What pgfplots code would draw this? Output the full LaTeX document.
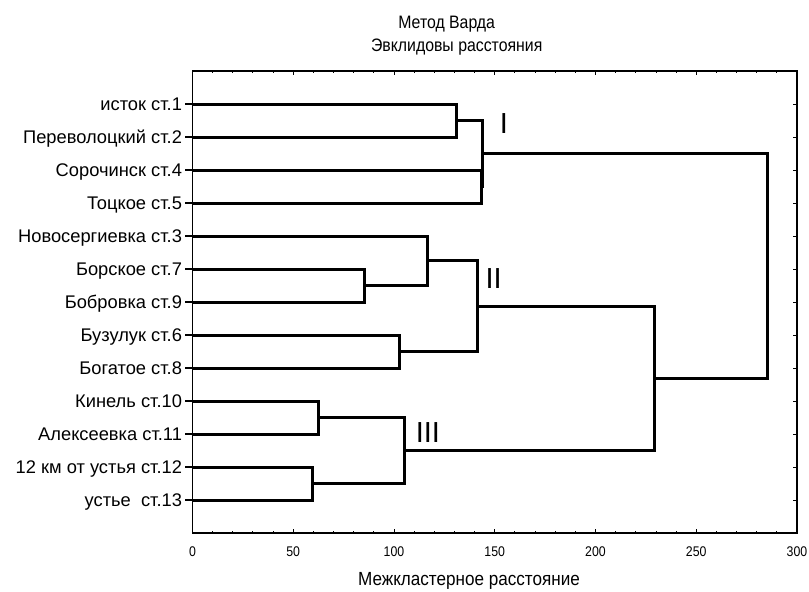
\documentclass[border=0pt]{standalone}
\usepackage{pgfplots}
\pgfplotsset{compat=1.18}
\usepackage{fontspec}
\setmainfont{Liberation Sans}
\newfontfamily\narrowfont{Liberation Sans}[FakeStretch=0.88]
\newfontfamily\titlefont{Liberation Sans}[FakeStretch=0.88]
\newfontfamily\labelfont{Liberation Sans}[FakeStretch=0.9]

\begin{document}
\begin{tikzpicture}[tree/.style={black, solid, line width=3pt, line join=miter, mark=none}]
% frame, x ticks, inner ticks on the right
\begin{axis}[
  at={(0,0)}, anchor=south west,
  scale only axis, width=604.5pt, height=462pt,
  xmin=0, xmax=300, ymin=0, ymax=14, y dir=reverse,
  xtick={0,50,...,300}, minor x tick num=4, xtick pos=both,
  ytick={1,...,13}, ytick pos=right, yticklabels={},
  tick align=inside, major tick length=4pt, minor tick length=2pt,
  axis line style={line width=1.3pt},
  every tick/.style={black, line width=0.9pt},
  /pgf/number format/assume math mode=true,
  xticklabel style={font=\narrowfont\fontsize{14}{16}\selectfont, anchor=base, yshift=-23pt},
]
\addplot[tree] coordinates {(0,1)(131,1)(131,2)(0,2)};
\addplot[tree] coordinates {(0,3)(143.2,3)(143.2,4)(0,4)};
\addplot[tree] coordinates {(131,1.5)(143.8,1.5)(143.8,3.5)(143.2,3.5)};
\addplot[tree] coordinates {(0,6)(85.6,6)(85.6,7)(0,7)};
\addplot[tree] coordinates {(0,5)(116.4,5)(116.4,6.5)(85.6,6.5)};
\addplot[tree] coordinates {(0,8)(102.6,8)(102.6,9)(0,9)};
\addplot[tree] coordinates {(116.4,5.75)(141.2,5.75)(141.2,8.5)(102.6,8.5)};
\addplot[tree] coordinates {(0,10)(62.4,10)(62.4,11)(0,11)};
\addplot[tree] coordinates {(0,12)(59.6,12)(59.6,13)(0,13)};
\addplot[tree] coordinates {(62.4,10.5)(105.3,10.5)(105.3,12.5)(59.6,12.5)};
\addplot[tree] coordinates {(141.2,7.125)(229.2,7.125)(229.2,11.5)(105.3,11.5)};
\addplot[tree] coordinates {(143.8,2.5)(285.5,2.5)(285.5,9.3125)(229.2,9.3125)};
\node[font=\fontsize{29}{32}\selectfont] at (axis cs:154.6,1.58) {I};
\node[font=\fontsize{29}{32}\selectfont] at (axis cs:149.5,6.3) {II};
\node[font=\fontsize{29}{32}\selectfont] at (axis cs:116.8,10.94) {III};
\end{axis}
% station labels with outer ticks on the left
\begin{axis}[
  at={(0,0)}, anchor=south west,
  scale only axis, width=604.5pt, height=462pt,
  xmin=0, xmax=300, ymin=0, ymax=14, y dir=reverse,
  xtick=\empty, ytick={1,...,13}, ytick pos=left,
  tick align=outside, major tick length=7pt,
  axis line style={line width=1.3pt},
  every tick/.style={black, line width=1.3pt},
  yticklabels={исток ст.1, Переволоцкий ст.2, Сорочинск ст.4, Тоцкое ст.5,
    Новосергиевка ст.3, Борское ст.7, Бобровка ст.9, Бузулук ст.6, Богатое ст.8,
    Кинель ст.10, Алексеевка ст.11, 12 км от устья ст.12, устье\ \ ст.13},
  yticklabel style={font=\fontsize{18.3}{20}\selectfont, anchor=base east, yshift=-6pt},
]
\end{axis}
\node[font=\titlefont\fontsize{18}{20}\selectfont, anchor=base] at (254.2pt,504pt) {Метод Варда};
\node[font=\titlefont\fontsize{18}{20}\selectfont, anchor=base] at (264.2pt,481pt) {Эвклидовы расстояния};
\node[font=\labelfont\fontsize{19}{21}\selectfont, anchor=base] at (276.5pt,-52pt) {Межкластерное расстояние};
\pgfresetboundingbox
\useasboundingbox (-192.5pt,-59pt) rectangle (616.5pt,533pt);
\end{tikzpicture}
\end{document}
